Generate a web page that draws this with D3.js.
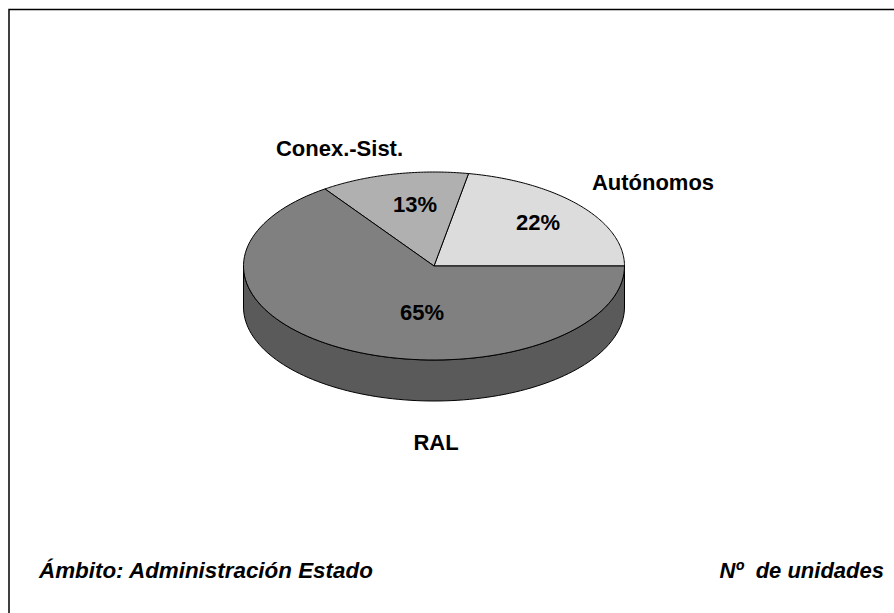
<!DOCTYPE html>
<html>
<head>
<meta charset="utf-8">
<script src="https://cdn.jsdelivr.net/npm/d3@7"></script>
<style>
html, body { margin: 0; padding: 0; background: #fff; }
text { font-family: "Liberation Sans", Arial, sans-serif; font-weight: bold; fill: #000; }
</style>
</head>
<body>
<svg id="chart" width="894" height="613"></svg>
<script>
const categories = ["Autónomos", "Conex.-Sist.", "RAL"];
const shares = [22.1, 12.6, 65.3];
const sliceColors = ["#dcdcdc", "#b0b0b0", "#808080"];
const footLeft = "Ámbito: Administración Estado";
const footRight = "Nº  de unidades";

const svg = d3.select("#chart");

// the frame only shows on the top and left, the rest is cropped away
svg.append("path")
    .attr("d", "M9,613V9.4H894")
    .attr("fill", "none")
    .attr("stroke", "#000")
    .attr("stroke-width", 1.5);

const cx = 434, cy = 266, rx = 190.5, ry = 94, depth = 41;

// Autonomos starts at east and the slices go anticlockwise
let pie = d3.pie().sort(null).value(d => d).startAngle(Math.PI / 2).endAngle(Math.PI / 2 - 2 * Math.PI);
let arcs = pie(shares);

function pt(a) {
    return [cx + rx * Math.sin(a), cy - ry * Math.cos(a)];
}

function slicePath(a0, a1) {
    let p = d3.path();
    p.moveTo(cx, cy);
    d3.range(0, 101).forEach(i => {
        let q = pt(a0 + (a1 - a0) * i / 100);
        p.lineTo(q[0], q[1]);
    });
    p.closePath();
    return p.toString();
}

// side wall of the pie, front half only
let wall = d3.path();
d3.range(0, 101).forEach(i => {
    let q = pt(Math.PI / 2 + Math.PI * i / 100);
    if (i == 0) wall.moveTo(q[0], q[1]); else wall.lineTo(q[0], q[1]);
});
d3.range(100, -1, -1).forEach(i => {
    let q = pt(Math.PI / 2 + Math.PI * i / 100);
    wall.lineTo(q[0], q[1] + depth);
});
wall.closePath();

svg.append("path")
    .attr("d", wall.toString())
    .attr("fill", "#5a5a5a")
    .attr("stroke", "#000");

svg.selectAll(".slice")
    .data(arcs)
    .enter().append("path")
    .attr("class", "slice")
    .attr("d", d => slicePath(d.startAngle, d.endAngle))
    .attr("fill", (d, i) => sliceColors[i])
    .attr("stroke", "#000");

// centre x and baseline of each label
const pctPos = [[538, 230], [415, 212], [422, 320]];
const namePos = [[653, 189.5], [339.5, 155.5], [436, 450]];

svg.selectAll(".pct")
    .data(shares)
    .enter().append("text")
    .attr("class", "pct")
    .attr("x", (d, i) => pctPos[i][0])
    .attr("y", (d, i) => pctPos[i][1])
    .attr("text-anchor", "middle")
    .attr("font-size", 22)
    .text(d => Math.round(d) + "%");

svg.selectAll(".name")
    .data(categories)
    .enter().append("text")
    .attr("class", "name")
    .attr("x", (d, i) => namePos[i][0])
    .attr("y", (d, i) => namePos[i][1])
    .attr("text-anchor", "middle")
    .attr("font-size", 22)
    .text(d => d);

svg.append("text")
    .attr("x", 39).attr("y", 578)
    .attr("font-size", 22.4)
    .attr("font-style", "italic")
    .text(footLeft);

svg.append("text")
    .attr("x", 884).attr("y", 578)
    .attr("text-anchor", "end")
    .attr("font-size", 22)
    .attr("font-style", "italic")
    .style("white-space", "pre")
    .text(footRight);
</script>
</body>
</html>
